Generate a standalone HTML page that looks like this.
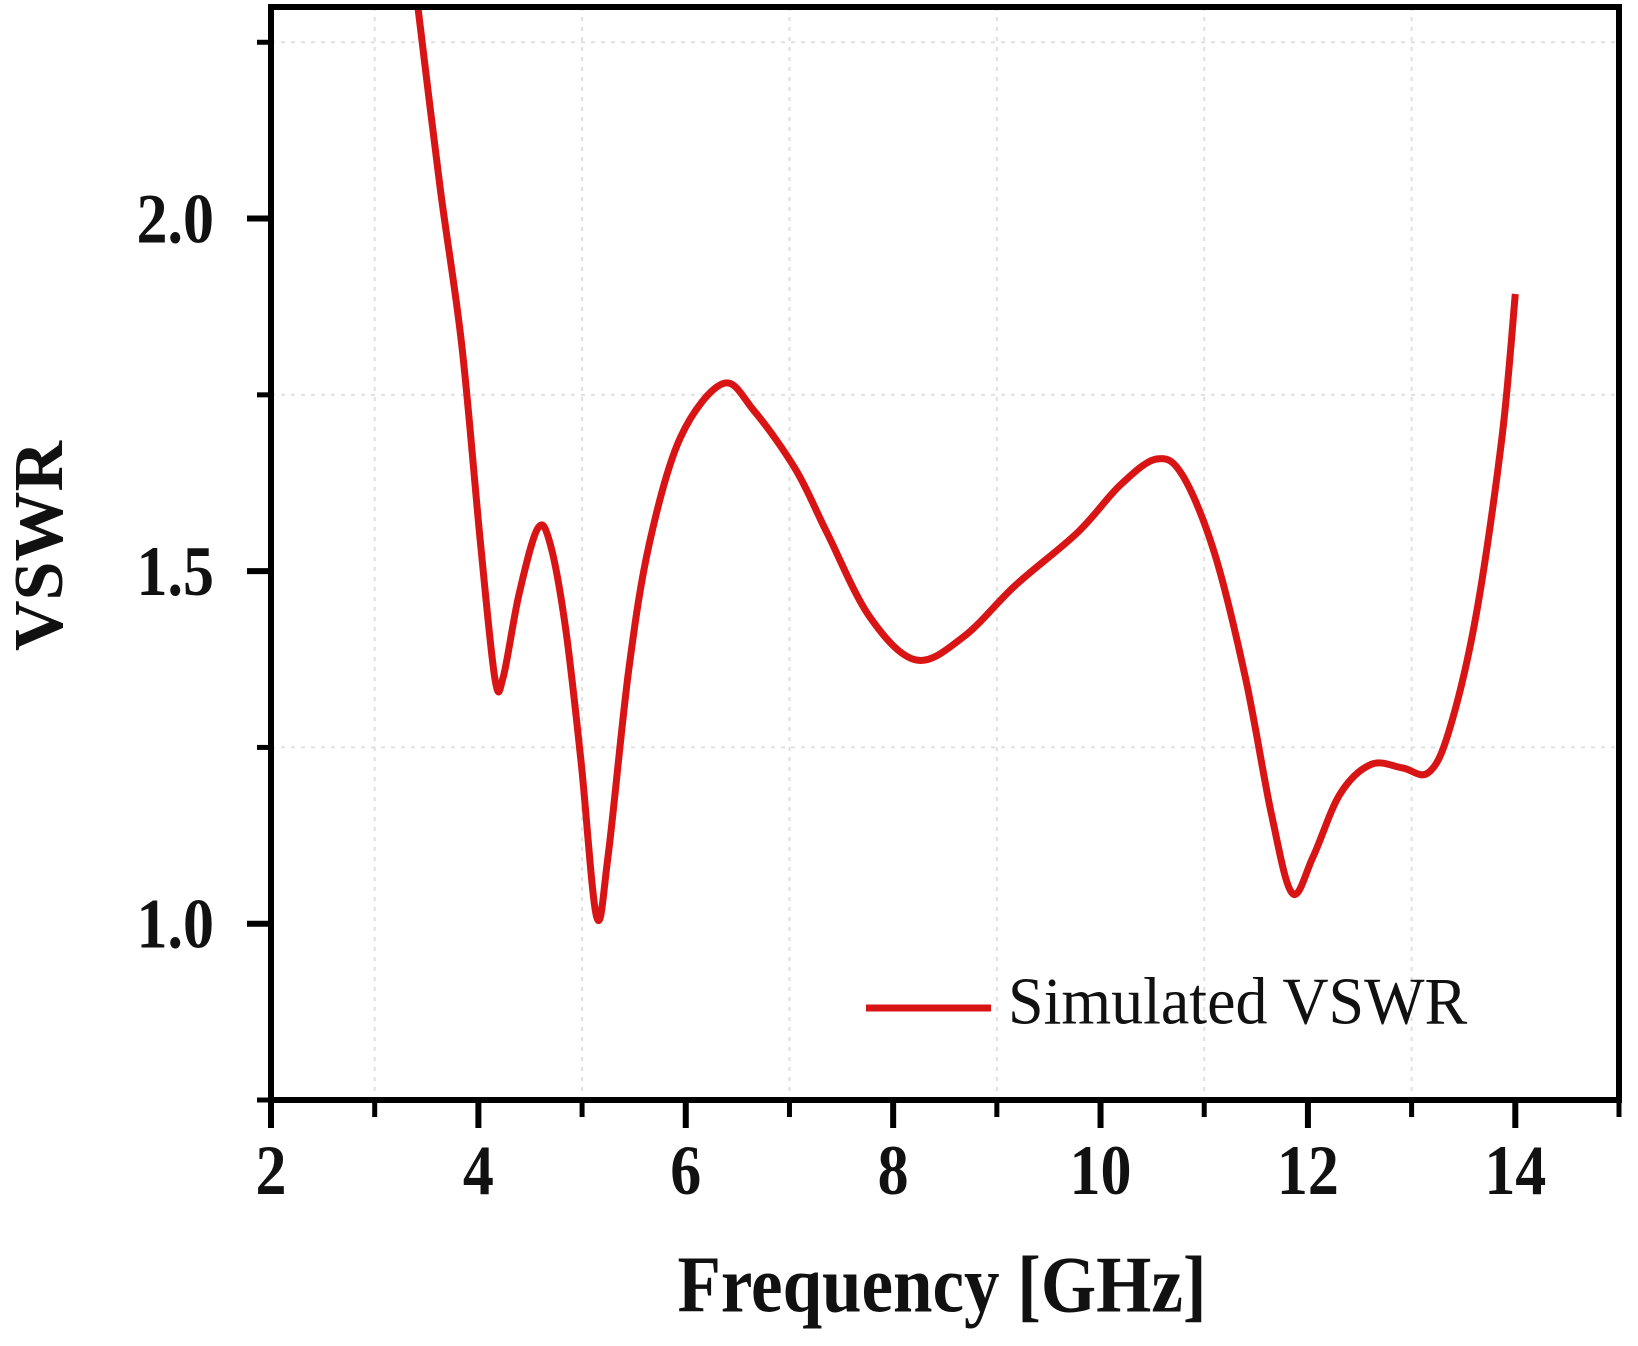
<!DOCTYPE html>
<html><head><meta charset="utf-8"><style>
html,body{margin:0;padding:0;background:#fff;}
svg{display:block;}
text{font-family:"Liberation Serif","Times New Roman",serif;}
</style></head><body>
<svg id="chart" width="1638" height="1346" viewBox="0 0 1638 1346" xmlns="http://www.w3.org/2000/svg">
<g id="grid"></g>
<g id="axes"></g>
<g id="series"></g>
<g>
<line x1="866" y1="1008" x2="991" y2="1008" stroke="#d91414" stroke-width="7"/>
<text x="1008" y="1030" font-size="64" fill="#111" transform="translate(0,-58) scale(1,1.05)">Simulated VSWR</text>
</g>
<text x="942" y="1311" font-size="71" font-weight="bold" text-anchor="middle" fill="#111" transform="translate(0,-183) scale(1,1.14)">Frequency [GHz]</text>
<text x="0" y="0" font-size="70" font-weight="bold" text-anchor="middle" fill="#111" transform="translate(62,546) rotate(-90)">VSWR</text>
</svg>
<script>
const freqs=[3.40,3.63,3.84,4.02,4.16,4.24,4.39,4.57,4.69,4.84,4.99,5.14,5.25,5.45,5.65,5.95,6.36,6.66,7.06,7.36,7.77,8.22,8.68,9.18,9.78,10.19,10.54,10.79,11.10,11.40,11.65,11.85,12.05,12.31,12.61,12.91,13.16,13.36,13.62,13.87,14.0];
const vswr=[2.32,2.045,1.82,1.54,1.347,1.35,1.466,1.56,1.54,1.42,1.23,1.01,1.095,1.36,1.54,1.69,1.766,1.727,1.644,1.555,1.436,1.374,1.407,1.48,1.555,1.622,1.659,1.636,1.525,1.347,1.154,1.043,1.095,1.184,1.226,1.221,1.214,1.273,1.436,1.688,1.893];
const xTicks=[2,4,6,8,10,12,14];
const xTickLabels=["2","4","6","8","10","12","14"];
const xMinor=[3,5,7,9,11,13,15];
const yTicks=[1.0,1.5,2.0];
const yTickLabels=["1.0","1.5","2.0"];
const yMinor=[0.75,1.25,1.75,2.25];
const X0=271,X1=1619,Y0=1100,Y1=7,XMIN=2,XMAX=15,YMIN=0.75,YMAX=2.3;
const sx=v=>X0+(v-XMIN)/(XMAX-XMIN)*(X1-X0);
const sy=v=>Y0-(v-YMIN)/(YMAX-YMIN)*(Y0-Y1);
const NS="http://www.w3.org/2000/svg";
function mk(tag,attrs,parent){const e=document.createElementNS(NS,tag);for(const k in attrs)e.setAttribute(k,attrs[k]);parent.appendChild(e);return e;}
const grid=document.getElementById('grid'),axes=document.getElementById('axes'),series=document.getElementById('series');
xMinor.forEach(v=>{if(v>=XMAX)return;const l=mk('line',{x1:sx(v),x2:sx(v),y1:Y1,y2:Y0,stroke:'#e0e0e0','stroke-width':2,'stroke-dasharray':'4 6'},grid);

});
yMinor.forEach(v=>{if(v<=YMIN)return;const l=mk('line',{x1:X0,x2:X1,y1:sy(v),y2:sy(v),stroke:'#e0e0e0','stroke-width':2,'stroke-dasharray':'4 6'},grid);

});
const fr=mk('rect',{x:X0,y:Y1,width:X1-X0,height:Y0-Y1,fill:'none',stroke:'#000','stroke-width':6},axes);


xTicks.forEach((v,i)=>{const t=mk('line',{x1:sx(v),x2:sx(v),y1:Y0,y2:Y0+28,stroke:'#000','stroke-width':6},axes);


const tx=mk('text',{x:sx(v),y:0,'font-size':62,'font-weight':'bold','text-anchor':'middle',fill:'#111',transform:'translate(0,1194) scale(1,1.15)'},axes);tx.textContent=xTickLabels[i];

});
xMinor.forEach(v=>{const t=mk('line',{x1:sx(v),x2:sx(v),y1:Y0,y2:Y0+17,stroke:'#000','stroke-width':5},axes);

});
yTicks.forEach((v,i)=>{const t=mk('line',{x1:X0-24,x2:X0,y1:sy(v),y2:sy(v),stroke:'#000','stroke-width':6},axes);


const tx=mk('text',{x:214,y:0,'font-size':62,'font-weight':'bold','text-anchor':'end',fill:'#111',transform:'translate(0,'+(sy(v)+24)+') scale(1,1.15)'},axes);tx.textContent=yTickLabels[i];

});
yMinor.forEach(v=>{const t=mk('line',{x1:X0-14,x2:X0,y1:sy(v),y2:sy(v),stroke:'#000','stroke-width':5},axes);

});
const pts=freqs.map((f,i)=>[sx(f),sy(vswr[i])]);
let d='M'+pts[0][0]+','+pts[0][1];
for(let i=0;i<pts.length-1;i++){const p0=pts[Math.max(0,i-1)],p1=pts[i],p2=pts[i+1],p3=pts[Math.min(pts.length-1,i+2)];
const c1=[p1[0]+(p2[0]-p0[0])/6,p1[1]+(p2[1]-p0[1])/6],c2=[p2[0]-(p3[0]-p1[0])/6,p2[1]-(p3[1]-p1[1])/6];
d+=' C'+c1[0]+','+c1[1]+' '+c2[0]+','+c2[1]+' '+p2[0]+','+p2[1];}
mk('clipPath',{id:'clip'},series).appendChild(document.createElementNS(NS,'rect'));
const cr=document.querySelector('#clip rect');cr.setAttribute('x',X0);cr.setAttribute('y',Y1+3);cr.setAttribute('width',X1-X0);cr.setAttribute('height',Y0-Y1);
const ln=mk('path',{d:d,fill:'none',stroke:'#d91414','stroke-width':7,'stroke-linejoin':'round','clip-path':'url(#clip)'},series);


</script>
</body></html>
